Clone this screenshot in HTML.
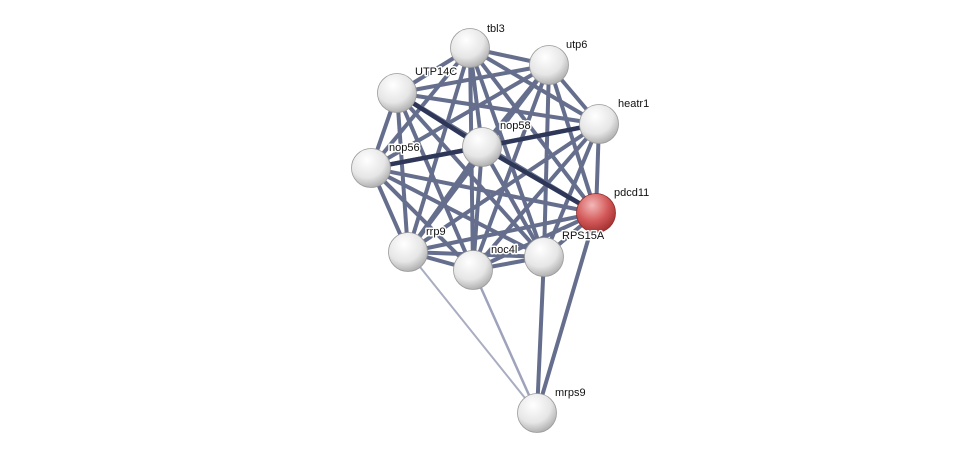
<!DOCTYPE html>
<html><head><meta charset="utf-8"><style>
html,body{margin:0;padding:0;background:#fff;}
svg{display:block;}
text{font-family:"Liberation Sans",sans-serif;font-size:11px;fill:#111;stroke:#fff;stroke-width:3px;paint-order:stroke;stroke-linejoin:round;}
</style></head><body>
<svg width="975" height="459" viewBox="0 0 975 459">
<defs>
<radialGradient id="g" cx="0.4" cy="0.3" r="0.75">
<stop offset="0" stop-color="#ffffff"/><stop offset="0.6" stop-color="#e6e6e6"/><stop offset="1" stop-color="#a8a8a8"/></radialGradient>
<radialGradient id="r" cx="0.4" cy="0.3" r="0.75">
<stop offset="0" stop-color="#f3b8b8"/><stop offset="0.55" stop-color="#d45a5a"/><stop offset="1" stop-color="#9e2c2c"/></radialGradient>
</defs>
<g stroke-linecap="butt">
<g stroke="#5d6786" stroke-width="4" opacity="0.95">
<line x1="470" y1="48" x2="549" y2="65"/><line x1="470" y1="48" x2="397" y2="93"/><line x1="470" y1="48" x2="599" y2="124"/><line x1="470" y1="48" x2="482" y2="147"/><line x1="470" y1="48" x2="371" y2="168"/><line x1="470" y1="48" x2="596" y2="213"/><line x1="470" y1="48" x2="408" y2="252"/><line x1="470" y1="48" x2="473" y2="270"/><line x1="470" y1="48" x2="544" y2="257"/>
<line x1="549" y1="65" x2="397" y2="93"/><line x1="549" y1="65" x2="599" y2="124"/><line x1="549" y1="65" x2="482" y2="147"/><line x1="549" y1="65" x2="371" y2="168"/><line x1="549" y1="65" x2="596" y2="213"/><line x1="549" y1="65" x2="408" y2="252"/><line x1="549" y1="65" x2="473" y2="270"/><line x1="549" y1="65" x2="544" y2="257"/>
<line x1="397" y1="93" x2="599" y2="124"/><line x1="397" y1="93" x2="371" y2="168"/><line x1="397" y1="93" x2="596" y2="213"/><line x1="397" y1="93" x2="408" y2="252"/><line x1="397" y1="93" x2="473" y2="270"/><line x1="397" y1="93" x2="544" y2="257"/>
<line x1="599" y1="124" x2="371" y2="168"/><line x1="599" y1="124" x2="596" y2="213"/><line x1="599" y1="124" x2="408" y2="252"/><line x1="599" y1="124" x2="473" y2="270"/><line x1="599" y1="124" x2="544" y2="257"/>
<line x1="482" y1="147" x2="408" y2="252"/><line x1="482" y1="147" x2="473" y2="270"/><line x1="482" y1="147" x2="544" y2="257"/>
<line x1="371" y1="168" x2="596" y2="213"/><line x1="371" y1="168" x2="408" y2="252"/><line x1="371" y1="168" x2="473" y2="270"/><line x1="371" y1="168" x2="544" y2="257"/>
<line x1="596" y1="213" x2="408" y2="252"/><line x1="596" y1="213" x2="473" y2="270"/><line x1="596" y1="213" x2="544" y2="257"/>
<line x1="408" y1="252" x2="473" y2="270"/><line x1="408" y1="252" x2="544" y2="257"/><line x1="473" y1="270" x2="544" y2="257"/>
<line x1="544" y1="257" x2="537" y2="413"/><line x1="596" y1="213" x2="537" y2="413"/>
</g>
<g stroke="#2e3758" stroke-width="4.5">
<line x1="397" y1="93" x2="482" y2="147"/><line x1="482" y1="147" x2="599" y2="124"/><line x1="482" y1="147" x2="371" y2="168"/><line x1="482" y1="147" x2="596" y2="213"/>
</g>
<line x1="408" y1="252" x2="537" y2="413" stroke="#a9adc2" stroke-width="2"/>
<line x1="473" y1="270" x2="537" y2="413" stroke="#9ea3bb" stroke-width="2.5"/>
</g>
<g stroke="#9a9a9a" stroke-width="0.8">
<circle cx="470" cy="48" r="19.5" fill="url(#g)"/>
<circle cx="549" cy="65" r="19.5" fill="url(#g)"/>
<circle cx="397" cy="93" r="19.5" fill="url(#g)"/>
<circle cx="599" cy="124" r="19.5" fill="url(#g)"/>
<circle cx="482" cy="147" r="19.5" fill="url(#g)"/>
<circle cx="371" cy="168" r="19.5" fill="url(#g)"/>
<circle cx="596" cy="213" r="19.5" fill="url(#r)" stroke="#8e2a2a"/>
<circle cx="408" cy="252" r="19.5" fill="url(#g)"/>
<circle cx="473" cy="270" r="19.5" fill="url(#g)"/>
<circle cx="544" cy="257" r="19.5" fill="url(#g)"/>
<circle cx="537" cy="413" r="19.5" fill="url(#g)"/>
</g>
<g>
<text x="487" y="32">tbl3</text>
<text x="566" y="48">utp6</text>
<text x="415" y="75">UTP14C</text>
<text x="618" y="107">heatr1</text>
<text x="500" y="129">nop58</text>
<text x="389" y="151">nop56</text>
<text x="614" y="196">pdcd11</text>
<text x="426" y="235">rrp9</text>
<text x="491" y="253">noc4l</text>
<text x="562" y="239">RPS15A</text>
<text x="555" y="396">mrps9</text>
</g>
</svg>
</body></html>
